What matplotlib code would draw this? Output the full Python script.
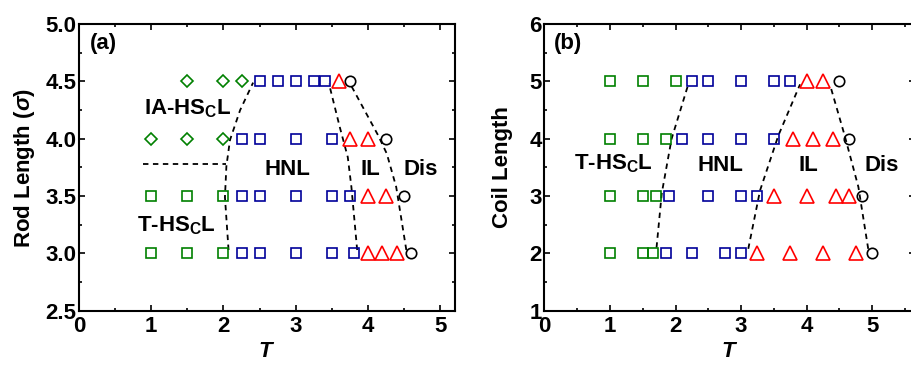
import matplotlib
matplotlib.use('Agg')
import matplotlib.pyplot as plt
from matplotlib.ticker import MultipleLocator

plt.rcParams['font.family'] = ['Liberation Sans', 'DejaVu Sans']
plt.rcParams['font.weight'] = 'bold'
plt.rcParams['mathtext.fontset'] = 'custom'
plt.rcParams['mathtext.rm'] = 'Liberation Sans'
plt.rcParams['mathtext.bf'] = 'Liberation Sans:bold'
plt.rcParams['mathtext.it'] = 'Liberation Sans:italic'

GREEN = '#008000'; BLUE = '#000099'; RED = '#ff0000'; BLACK = '#000000'

# ---- panel (a): rod length vs T ----
a_diam_T = [1.5, 2.0, 2.25, 1.0, 1.5, 2.0]
a_diam_L = [4.5, 4.5, 4.5, 4.0, 4.0, 4.0]
a_gsq_T = [1.0, 1.5, 2.0, 1.0, 1.5, 2.0]
a_gsq_L = [3.5, 3.5, 3.5, 3.0, 3.0, 3.0]
a_bsq_T = [2.5, 2.75, 3.0, 3.25, 3.4,
           2.25, 2.5, 3.0, 3.5,
           2.25, 2.5, 3.0, 3.5, 3.75,
           2.25, 2.5, 3.0, 3.5, 3.8]
a_bsq_L = [4.5]*5 + [4.0]*4 + [3.5]*5 + [3.0]*5
a_tri_T = [3.6, 3.75, 4.0, 4.0, 4.25, 4.0, 4.2, 4.4]
a_tri_L = [4.5, 4.0, 4.0, 3.5, 3.5, 3.0, 3.0, 3.0]
a_circ_T = [3.75, 4.25, 4.5, 4.6]
a_circ_L = [4.5, 4.0, 3.5, 3.0]

# dashed phase boundaries
a_b1_T = [2.07, 2.02, 2.04, 2.09, 2.23, 2.41]
a_b1_L = [3.03, 3.49, 3.76, 3.99, 4.25, 4.49]
a_b2_T = [3.85, 3.77, 3.72, 3.61, 3.46]
a_b2_L = [3.03, 3.58, 3.84, 4.10, 4.48]
a_b3_T = [4.53, 4.39, 4.26, 4.14, 3.77]
a_b3_L = [3.03, 3.58, 3.87, 4.03, 4.46]
a_h_T = [0.89, 2.04]
a_h_L = [3.78, 3.78]

# ---- panel (b): coil length vs T ----
b_gsq_T = [1.0, 1.5, 2.0, 1.0, 1.5, 1.85, 1.0, 1.5, 1.7, 1.0, 1.5, 1.65]
b_gsq_L = [5]*3 + [4]*3 + [3]*3 + [2]*3
b_bsq_T = [2.25, 2.5, 3.0, 3.5, 3.75,
           2.1, 2.5, 3.0, 3.5,
           1.9, 2.5, 3.0, 3.25,
           1.85, 2.25, 2.75, 3.0]
b_bsq_L = [5]*5 + [4]*4 + [3]*4 + [2]*4
b_tri_T = [4.0, 4.25, 3.8, 4.1, 4.4, 3.5, 4.0, 4.45, 4.65, 3.25, 3.75, 4.25, 4.75]
b_tri_L = [5, 5, 4, 4, 4, 3, 3, 3, 3, 2, 2, 2, 2]
b_circ_T = [4.5, 4.65, 4.85, 5.0]
b_circ_L = [5, 4, 3, 2]

b_b1_T = [1.71, 1.79, 1.94, 2.20]
b_b1_L = [2.10, 3.05, 4.00, 4.97]
b_b2_T = [3.11, 3.29, 3.57, 3.90]
b_b2_L = [2.08, 3.10, 4.06, 4.95]
b_b3_T = [4.94, 4.79, 4.58, 4.36]
b_b3_L = [2.08, 3.16, 4.06, 4.93]

fig = plt.figure(figsize=(9.12, 3.66), dpi=100)
ax1 = fig.add_axes([0.0866, 0.151, 0.412, 0.783])
ax2 = fig.add_axes([0.597, 0.151, 0.406, 0.783])

mk = dict(linestyle='none', markerfacecolor='none', markeredgewidth=1.2)
dash = dict(color='black', linestyle=(0, (3, 2.5)), linewidth=1.3)

ax1.plot(a_b1_T, a_b1_L, **dash)
ax1.plot(a_b2_T, a_b2_L, **dash)
ax1.plot(a_b3_T, a_b3_L, **dash)
ax1.plot(a_h_T, a_h_L, **dash)
ax1.plot(a_diam_T, a_diam_L, marker='D', ms=6.3, markeredgecolor=GREEN, **mk)
ax1.plot(a_gsq_T, a_gsq_L, marker='s', ms=7, markeredgecolor=GREEN, **mk)
ax1.plot(a_bsq_T, a_bsq_L, marker='s', ms=7, markeredgecolor=BLUE, **mk)
ax1.plot(a_tri_T, a_tri_L, marker='^', ms=9.5, markeredgecolor=RED, **mk)
ax1.plot(a_circ_T, a_circ_L, marker='o', ms=7.5, markeredgecolor=BLACK, **mk)

ax2.plot(b_b1_T, b_b1_L, **dash)
ax2.plot(b_b2_T, b_b2_L, **dash)
ax2.plot(b_b3_T, b_b3_L, **dash)
ax2.plot(b_gsq_T, b_gsq_L, marker='s', ms=7, markeredgecolor=GREEN, **mk)
ax2.plot(b_bsq_T, b_bsq_L, marker='s', ms=7, markeredgecolor=BLUE, **mk)
ax2.plot(b_tri_T, b_tri_L, marker='^', ms=9.5, markeredgecolor=RED, **mk)
ax2.plot(b_circ_T, b_circ_L, marker='o', ms=7.5, markeredgecolor=BLACK, **mk)

ax1.set_xlim(0, 5.2)
ax1.set_ylim(2.5, 5.0)
ax1.xaxis.set_major_locator(MultipleLocator(1))
ax1.xaxis.set_minor_locator(MultipleLocator(0.5))
ax1.yaxis.set_major_locator(MultipleLocator(0.5))
ax1.yaxis.set_minor_locator(MultipleLocator(0.25))
ax1.yaxis.set_major_formatter(plt.FormatStrFormatter('%.1f'))

ax2.set_xlim(0, 5.65)
ax2.set_ylim(1, 6)
ax2.xaxis.set_major_locator(MultipleLocator(1))
ax2.xaxis.set_minor_locator(MultipleLocator(0.5))
ax2.yaxis.set_major_locator(MultipleLocator(1))
ax2.yaxis.set_minor_locator(MultipleLocator(0.5))

for ax in (ax1, ax2):
    for s in ax.spines.values():
        s.set_linewidth(1.5)
    ax.tick_params(which='both', direction='in', top=True, right=True,
                   labelsize=16, width=1.2)
    ax.tick_params(which='major', length=4)
    ax.tick_params(which='minor', length=2)
    ax.tick_params(axis='x', pad=4)
    ax.tick_params(axis='y', pad=2)
    for lab in ax.get_xticklabels() + ax.get_yticklabels():
        lab.set_fontweight('bold')
    ax.set_xlabel('$\\mathit{T}$', fontsize=16, labelpad=3)

ax1.set_ylabel('Rod Length ($\\sigma$)', fontsize=16, fontweight='bold', labelpad=6)
ax2.set_ylabel('Coil Length', fontsize=16, fontweight='bold', labelpad=12)

tk = dict(fontsize=16, fontweight='bold', va='center')
ax1.text(0.15, 4.83, '(a)', ha='left', **tk)
ax1.text(0.9, 4.26, 'IA-HS$_\\mathbf{C}$L', ha='left', **tk)
ax1.text(0.8, 3.24, 'T-HS$_\\mathbf{C}$L', ha='left', **tk)
ax1.text(2.88, 3.73, 'HNL', ha='center', **tk)
ax1.text(4.03, 3.73, 'IL', ha='center', **tk)
ax1.text(4.73, 3.73, 'Dis', ha='center', **tk)

ax2.text(0.15, 5.66, '(b)', ha='left', **tk)
ax2.text(0.45, 3.56, 'T-HS$_\\mathbf{C}$L', ha='left', **tk)
ax2.text(2.68, 3.53, 'HNL', ha='center', **tk)
ax2.text(4.03, 3.53, 'IL', ha='center', **tk)
ax2.text(5.14, 3.53, 'Dis', ha='center', **tk)

fig.savefig('out.png', dpi=100)
